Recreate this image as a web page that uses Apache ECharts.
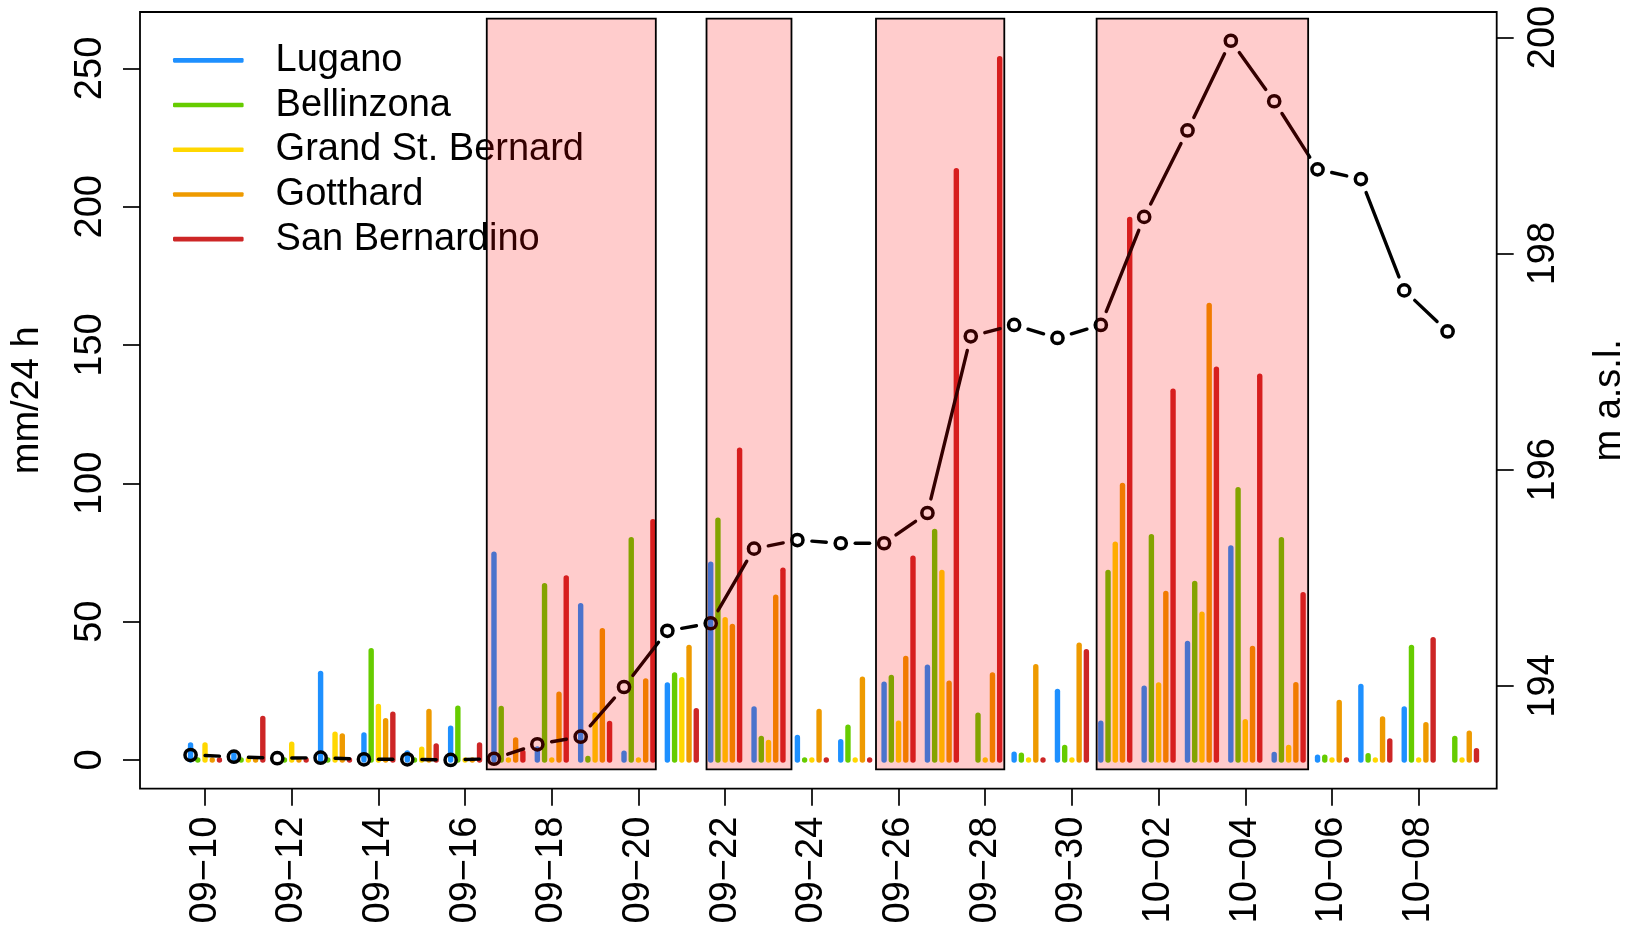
<!DOCTYPE html>
<html><head><meta charset="utf-8">
<script src="https://cdn.jsdelivr.net/npm/echarts@6/dist/echarts.min.js"></script>
<style>html,body{margin:0;padding:0;background:#fff}#c{width:1629px;height:930px}</style>
</head><body><div id="c"></div>
<script>
// ---- data ----
const dayLabels = ['09−10','09−11','09−12','09−13','09−14','09−15','09−16','09−17','09−18','09−19',
  '09−20','09−21','09−22','09−23','09−24','09−25','09−26','09−27','09−28','09−29',
  '09−30','10−01','10−02','10−03','10−04','10−05','10−06','10−07','10−08','10−09'];
const xTickDays = [0,2,4,6,8,10,12,14,16,18,20,22,24,26,28];
const leftTicks = [0,50,100,150,200,250];
const rightTicks = [194,196,198,200];
const stations = ['Lugano','Bellinzona','Grand St. Bernard','Gotthard','San Bernardino'];
const lugano     = [5.4,2.5,null,31.3,9.0,2.5,11.5,74.4,4.0,55.8,2.4,27.1,70.8,18.4,8.1,6.6,27.4,33.5,null,2.1,24.8,13.3,25.9,42.1,76.6,2.0,1.0,26.6,18.4,null];
const bellinzona = [0,0,0,0,39.5,0,18.7,18.6,63.0,0.5,79.6,30.7,86.7,7.8,0,11.8,29.8,82.6,16.2,1.7,4.5,67.8,80.7,63.8,97.7,79.6,1.0,1.5,40.7,7.8];
const grandStBernard = [5.4,0,5.7,9.3,19.3,3.9,0,0,0,16.3,0,29.0,50.7,6.3,0,0,13.3,67.8,0,0,0,78.0,27.1,52.7,13.8,4.5,0,0,0,0];
const gotthard   = [0,0,0,8.7,14.2,17.5,0,7.2,23.8,46.7,28.6,40.7,48.3,58.8,17.5,29.2,36.7,27.7,30.7,33.7,41.5,99.2,60.2,164.3,40.3,27.2,20.8,14.8,12.7,9.7];
const sanBernardino = [0,15.0,0,0,16.5,5.1,5.4,2.7,65.8,13.2,86.1,17.8,112,68.6,0,0,72.9,213,253.5,0,39.1,195.4,133.3,141.3,138.7,59.7,0,6.9,43.5,3.3];
const lakeLevel = [193.361,193.345,193.331,193.336,193.321,193.321,193.315,193.326,193.46,193.53,193.99,194.51,194.58,195.27,195.35,195.32,195.32,195.60,197.235,197.34,197.22,197.34,198.34,199.14,199.97,199.41,198.78,198.69,197.66,197.28];
const periodStart = [6.50, 11.57, 15.48, 20.57];
const periodEnd   = [10.40, 13.53, 18.44, 25.45];

// ---- build ----
const FONT = 'Liberation Sans';
const FS = 38;
const colors = ['#1E90FF','#66CC00','#FFD700','#EE9A00','#CD2626'];
const offsets = [-1/3,-1/6,0,1/6,1/3];
const precip = [lugano, bellinzona, grandStBernard, gotthard, sanBernardino];

const barSeries = precip.map((arr, k) => ({
  type: 'custom', name: stations[k], xAxisIndex: 0, yAxisIndex: 0, z: 2, silent: true,
  itemStyle: {color: colors[k]},
  encode: {x: 0, y: 1},
  data: arr.map((v, i) => v == null ? null : [i + offsets[k], v]).filter(d => d),
  renderItem: (params, api) => {
    const x = api.value(0), v = api.value(1);
    const p0 = api.coord([x, 0]), p1 = api.coord([x, v]);
    if (Math.abs(p0[1] - p1[1]) < 0.5) {
      return {type: 'circle', shape: {cx: p0[0], cy: p0[1], r: 2.7}, style: {fill: colors[k]}};
    }
    return {type: 'line', shape: {x1: p0[0], y1: p0[1], x2: p1[0], y2: p1[1]},
      style: {stroke: colors[k], lineWidth: 5.4, lineCap: 'round'}};
  }
}));

const segData = [];
for (let i = 0; i < lakeLevel.length - 1; i++) {
  segData.push([i - 1/3, lakeLevel[i], i + 1 - 1/3, lakeLevel[i + 1]]);
}
const levelPts = lakeLevel.map((v, i) => [i - 1/3, v]);

const tickStyle = {color: '#000', width: 1.7};
const option = {
  animation: false,
  backgroundColor: '#fff',
  grid: {left: 140, top: 12, width: 1356.7, height: 776.7, show: true,
    borderColor: '#000', borderWidth: 1.8, backgroundColor: 'transparent',
    containLabel: false, outerBoundsMode: 'none'},
  legend: {
    orient: 'vertical', left: 173, top: 38, padding: 0, itemGap: 0,
    itemWidth: 70.6, itemHeight: 4.6, selectedMode: false,
    textStyle: {fontSize: FS, fontFamily: FONT, color: '#000', lineHeight: 44.7, padding: [0, 0, 0, 27]},
    data: stations.map((n, k) => ({name: n, icon: 'roundRect', itemStyle: {color: colors[k]}}))
  },
  xAxis: {
    type: 'value', min: -1.5, max: 29.8,
    splitLine: {show: false}, axisLine: {show: false, onZero: false},
    axisTick: {show: true, length: 17, lineStyle: tickStyle, customValues: xTickDays},
    axisLabel: {customValues: xTickDays, rotate: 90, margin: 28,
      formatter: v => dayLabels[Math.round(v)],
      fontSize: FS, fontFamily: FONT, color: '#000'}
  },
  yAxis: [
    {type: 'value', position: 'left', min: -10.4, max: 270.4,
      splitLine: {show: false}, axisLine: {show: false, onZero: false},
      axisTick: {show: true, length: 17, lineStyle: tickStyle, customValues: leftTicks},
      axisLabel: {customValues: leftTicks, rotate: 90, margin: 30, fontSize: FS, fontFamily: FONT, color: '#000'},
      name: 'mm/24 h', nameLocation: 'middle', nameRotate: 90, nameGap: 93,
      nameTextStyle: {fontSize: FS, fontFamily: FONT, color: '#000'}},
    {type: 'value', position: 'right', min: 193.049, max: 200.236,
      splitLine: {show: false}, axisLine: {show: false, onZero: false},
      axisTick: {show: true, length: 17, lineStyle: tickStyle, customValues: rightTicks},
      axisLabel: {customValues: rightTicks, rotate: 90, margin: 28, fontSize: FS, fontFamily: FONT, color: '#000'},
      name: 'm a.s.l.', nameLocation: 'middle', nameRotate: 90, nameGap: 94,
      nameTextStyle: {fontSize: FS, fontFamily: FONT, color: '#000'}}
  ],
  series: [
    ...barSeries,
    {type: 'custom', name: 'levelLine', xAxisIndex: 0, yAxisIndex: 1, z: 3, silent: true,
      encode: {x: [0, 2], y: [1, 3]}, data: segData,
      renderItem: (params, api) => {
        const a = api.coord([api.value(0), api.value(1)]);
        const b = api.coord([api.value(2), api.value(3)]);
        const dx = b[0] - a[0], dy = b[1] - a[1], L = Math.hypot(dx, dy), g = 14.5;
        if (L <= 2 * g) return null;
        const ux = dx / L, uy = dy / L;
        return {type: 'line', shape: {x1: a[0] + ux * g, y1: a[1] + uy * g, x2: b[0] - ux * g, y2: b[1] - uy * g},
          style: {stroke: '#000', lineWidth: 3.4, lineCap: 'round'}};
      }},
    {type: 'custom', name: 'levelPts', xAxisIndex: 0, yAxisIndex: 1, z: 3, silent: true,
      encode: {x: 0, y: 1}, data: levelPts,
      renderItem: (params, api) => {
        const p = api.coord([api.value(0), api.value(1)]);
        return {type: 'circle', shape: {cx: p[0], cy: p[1], r: 5.6},
          style: {fill: 'none', stroke: '#000', lineWidth: 3.5}};
      }},
    {type: 'custom', name: 'periods', xAxisIndex: 0, yAxisIndex: 0, z: 10, silent: true,
      encode: {x: [0, 1], y: [2, 3]},
      data: periodStart.map((s, i) => [s, periodEnd[i], -3.4, 268]),
      renderItem: (params, api) => {
        const a = api.coord([api.value(0), api.value(3)]);
        const b = api.coord([api.value(1), api.value(2)]);
        return {type: 'rect', shape: {x: a[0], y: a[1], width: b[0] - a[0], height: b[1] - a[1]},
          style: {fill: 'rgba(255,0,0,0.2)', stroke: '#000', lineWidth: 1.8}};
      }}
  ]
};
const chart = echarts.init(document.getElementById('c'), null, {renderer: 'canvas'});
chart.setOption(option);
</script></body></html>
